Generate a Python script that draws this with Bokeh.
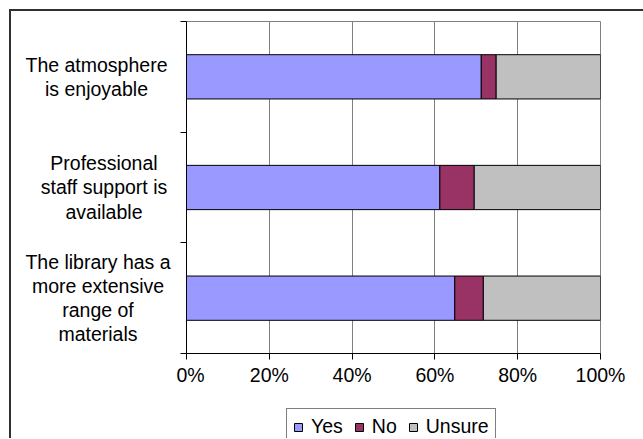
from bokeh.plotting import figure
from bokeh.layouts import row, column
from bokeh.models import Range1d, FixedTicker, PrintfTickFormatter, Legend, LegendItem, ColumnDataSource
from bokeh.core.properties import value
from bokeh.embed import file_html
from bokeh.resources import INLINE

# ---- data ----
statements = [
    "The atmosphere\nis enjoyable",
    "Professional\nstaff support is\navailable",
    "The library has a\nmore extensive\nrange of\nmaterials",
]
positions = [2.5, 1.5, 0.5]          # row centres, top to bottom
yes = [71.2, 61.2, 64.8]
no = [3.6, 8.3, 6.9]
unsure = [25.2, 30.5, 28.3]
series = ["Yes", "No", "Unsure"]
keys = ["yes", "no", "unsure"]
colors = ["#9999FF", "#993366", "#C0C0C0"]
x_ticks = [0, 20, 40, 60, 80, 100]
row_bounds = [0, 1, 2, 3]

# horizontal centres of the category label blocks (pixels in the label panel; layout only)
label_x = [85, 92.5, 86.5]

FONT = "Liberation Sans"
FS = "19.5px"

LAB_W, MAIN_W, TOP_H, LEG_H = 165, 467, 380, 47
MB_TOP, MB_BOT = 10, 38

source = ColumnDataSource(dict(y=positions, yes=yes, no=no, unsure=unsure))
yr = Range1d(0, 3)

# ---- main bar chart ----
p = figure(width=MAIN_W, height=TOP_H, output_backend="svg", toolbar_location=None,
           x_range=Range1d(0, 100), y_range=yr,
           min_border_left=10, min_border_right=43, min_border_top=MB_TOP, min_border_bottom=MB_BOT,
           background_fill_color="white", border_fill_color="white")

renderers = p.hbar_stack(keys, y="y", height=0.4, source=source,
                         color=colors, line_color="black", line_width=1)

p.outline_line_color = "#808080"
p.outline_line_width = 1

p.xgrid.ticker = FixedTicker(ticks=x_ticks)
p.xgrid.grid_line_color = "#808080"
p.xgrid.grid_line_width = 1
p.ygrid.grid_line_color = None

xa = p.xaxis[0]
xa.ticker = FixedTicker(ticks=x_ticks)
xa.formatter = PrintfTickFormatter(format="%d%%")
xa.axis_line_color = "black"
xa.major_tick_line_color = "black"
xa.major_tick_out = 6
xa.major_tick_in = 0
xa.minor_tick_line_color = None
xa.major_label_standoff = 4
xa.major_label_text_font = FONT
xa.major_label_text_font_size = FS
xa.major_label_text_color = "black"

ya = p.yaxis[0]
ya.ticker = FixedTicker(ticks=positions, minor_ticks=row_bounds)
ya.major_label_overrides = {pos: "" for pos in positions}
ya.axis_line_color = "black"
ya.major_tick_line_color = None
ya.major_tick_out = 0
ya.major_tick_in = 0
ya.minor_tick_line_color = "black"
ya.minor_tick_out = 6
ya.minor_tick_in = 0
ya.major_label_standoff = 0

# ---- category labels (centred multi-line) ----
pl = figure(width=LAB_W, height=TOP_H, output_backend="svg", toolbar_location=None,
            x_range=Range1d(0, LAB_W), y_range=yr,
            x_axis_location=None, y_axis_location=None,
            min_border_left=0, min_border_right=0, min_border_top=MB_TOP, min_border_bottom=MB_BOT,
            background_fill_color="white", border_fill_color="white")
pl.outline_line_color = None
pl.grid.grid_line_color = None
pl.text(x=label_x, y=positions, text=statements,
        text_align="center", text_baseline="middle",
        text_font=value(FONT), text_font_size=value(FS), text_color="black",
        text_line_height=1.1)

# ---- legend strip (legend keys use off-screen swatch renderers) ----
pg = figure(width=LAB_W + MAIN_W, height=LEG_H, output_backend="svg", toolbar_location=None,
            x_range=Range1d(0, 1), y_range=Range1d(0, 1),
            x_axis_location=None, y_axis_location=None,
            min_border_left=0, min_border_right=0, min_border_top=0, min_border_bottom=0,
            background_fill_color="white", border_fill_color="white")
pg.outline_line_color = None
pg.grid.grid_line_color = None
leg_src = ColumnDataSource(dict(y=[-5], left=[0], right=[1]))
leg_renderers = [pg.hbar(y="y", left="left", right="right", height=0.4, source=leg_src,
                         fill_color=c, line_color="black", line_width=1) for c in colors]
items = [LegendItem(label=s, renderers=[r]) for s, r in zip(series, leg_renderers)]
legend = Legend(items=items, orientation="horizontal", location=(275, LEG_H - 21 - 33),
                glyph_width=10, glyph_height=10, label_standoff=8, spacing=11,
                padding=6, margin=0,
                label_text_font=FONT, label_text_font_size=FS, label_text_color="black",
                border_line_color="black", border_line_width=1,
                background_fill_color="white", background_fill_alpha=1.0)
pg.add_layout(legend)

layout = column(row(pl, p), pg)
layout.styles = {"margin-left": "9px", "margin-top": "9px",
                 "border-left": "2px solid #303030", "border-top": "2px solid #303030"}

open("out.html", "w").write(file_html(layout, INLINE))
